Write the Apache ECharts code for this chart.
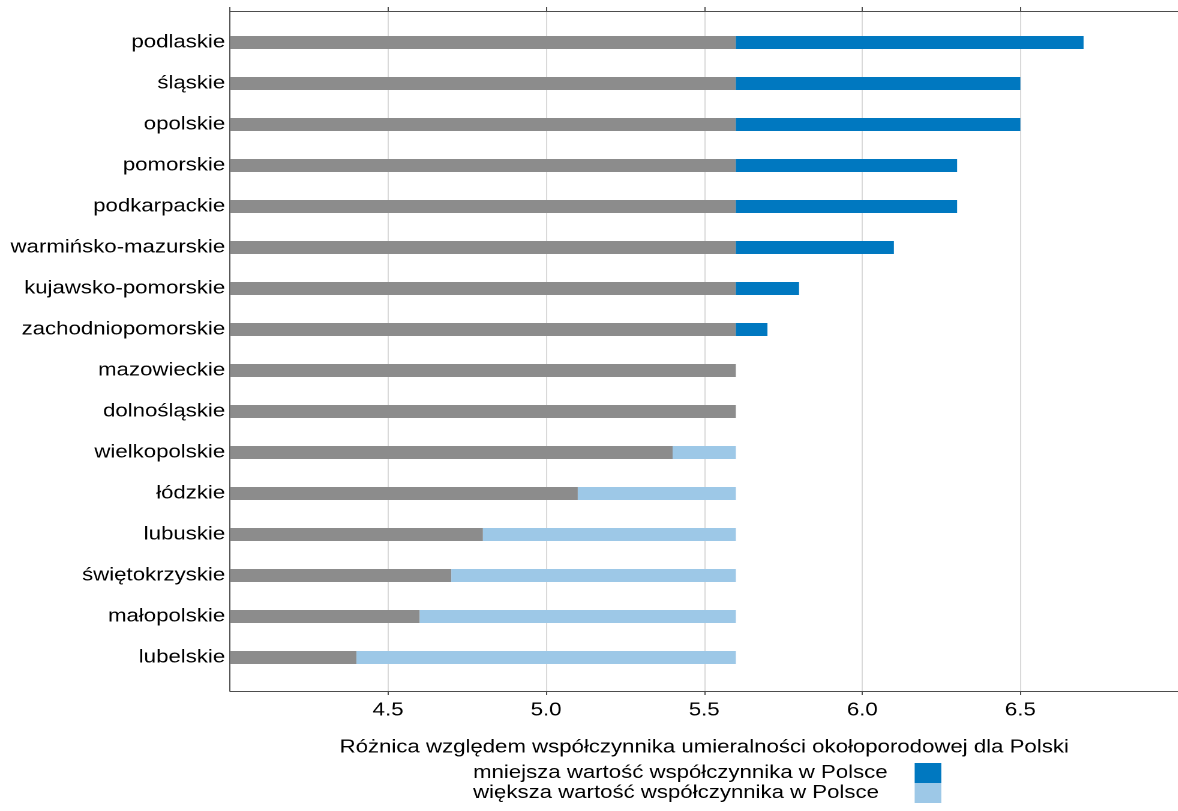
<!DOCTYPE html>
<html>
<head>
<meta charset="utf-8">
<script src="https://cdn.jsdelivr.net/npm/echarts@6/dist/echarts.min.js"></script>
<style>
  html, body { margin: 0; padding: 0; background: #fff; overflow: hidden; }
  #wrap { width: 1178px; height: 811px; overflow: hidden; position: relative; }
  #chart { width: 981.67px; height: 811px; transform: scaleX(1.2); transform-origin: 0 0; }
</style>
</head>
<body>
<div id="wrap"><div id="chart"></div></div>
<script>
// ---- data ----
const regions = ['podlaskie', 'śląskie', 'opolskie', 'pomorskie', 'podkarpackie',
  'warmińsko-mazurskie', 'kujawsko-pomorskie', 'zachodniopomorskie', 'mazowieckie',
  'dolnośląskie', 'wielkopolskie', 'łódzkie', 'lubuskie', 'świętokrzyskie',
  'małopolskie', 'lubelskie'];
const values = [6.7, 6.5, 6.5, 6.3, 6.3, 6.1, 5.8, 5.7, 5.6, 5.6, 5.4, 5.1, 4.8, 4.7, 4.6, 4.4];
const polandValue = 5.6;
const axisTitle = 'Różnica względem współczynnika umieralności okołoporodowej dla Polski';
const nameLower = 'mniejsza wartość współczynnika w Polsce';   // region above Poland
const nameHigher = 'większa wartość współczynnika w Polsce';   // region below Poland

// derived stacks
const r1 = v => Math.round(v * 10) / 10;
const graySeg = values.map(v => Math.min(v, polandValue));
const aboveSeg = values.map(v => r1(Math.max(v - polandValue, 0)));
const belowSeg = values.map(v => r1(Math.max(polandValue - v, 0)));

const FONT = "'Liberation Sans', Arial, sans-serif";
const FS = 18.5;
const AX = '#4d4d4d';

const chart = echarts.init(document.getElementById('chart'), null, { renderer: 'canvas', devicePixelRatio: 2 });
const gridLeft = 191.67, gridWidth = 792.5;

chart.setOption({
  animation: false,
  backgroundColor: '#fff',
  textStyle: { fontFamily: FONT },
  grid: [
    { left: gridLeft, top: 22, width: gridWidth, height: 656 },
    { left: gridLeft, top: 11, width: gridWidth, height: 680 }
  ],
  xAxis: [
    { gridIndex: 0, type: 'value', min: 4, max: 7, interval: 0.5, show: false },
    { gridIndex: 1, type: 'value', position: 'bottom', min: 4, max: 7, interval: 0.5,
      axisLine: { show: true, lineStyle: { color: AX, width: 1 } },
      axisTick: { show: true, length: 4, lineStyle: { color: AX } },
      axisLabel: { show: true, margin: 10, color: '#000', fontSize: FS, fontFamily: FONT,
        showMinLabel: false, showMaxLabel: false, formatter: v => v.toFixed(1) },
      splitLine: { show: true, lineStyle: { color: '#d9d9d9', width: 1 } },
      name: axisTitle, nameLocation: 'middle', nameGap: 47,
      nameTextStyle: { color: '#000', fontSize: FS, fontFamily: FONT } },
    { gridIndex: 1, type: 'value', position: 'top', min: 4, max: 7, interval: 0.5,
      axisLine: { show: true, lineStyle: { color: AX, width: 1 } },
      axisTick: { show: true, length: 4, lineStyle: { color: AX } },
      axisLabel: { show: false }, splitLine: { show: false } }
  ],
  yAxis: [
    { gridIndex: 0, type: 'category', data: regions, inverse: true,
      axisLine: { show: false }, axisTick: { show: false },
      axisLabel: { color: '#000', fontSize: FS, fontFamily: FONT, margin: 4 } },
    { gridIndex: 1, type: 'value', min: 0, max: 1,
      axisLine: { show: true, lineStyle: { color: AX, width: 1 } },
      axisTick: { show: false }, axisLabel: { show: false }, splitLine: { show: false } }
  ],
  legend: {
    orient: 'vertical', align: 'right', left: 394.2, top: 763, height: 120, padding: 0,
    itemWidth: 22.2, itemHeight: 20, itemGap: 0, icon: 'rect',
    selectedMode: false,
    data: [nameLower, nameHigher],
    formatter: n => '{t|' + n + '}',
    textStyle: { color: '#000', fontSize: FS, fontFamily: FONT, lineHeight: 20,
      rich: { t: { width: 363, align: 'left', fontSize: FS, fontFamily: FONT, color: '#000', lineHeight: 20 } } }
  },
  series: [
    { name: 'base', type: 'bar', stack: 's', xAxisIndex: 0, yAxisIndex: 0,
      data: graySeg, barWidth: 13, itemStyle: { color: '#8c8c8c' } },
    { name: nameLower, type: 'bar', stack: 's', xAxisIndex: 0, yAxisIndex: 0,
      data: aboveSeg, barWidth: 13, itemStyle: { color: '#0078c0' } },
    { name: nameHigher, type: 'bar', stack: 's', xAxisIndex: 0, yAxisIndex: 0,
      data: belowSeg, barWidth: 13, itemStyle: { color: '#9dc8e7' } }
  ]
});
</script>
</body>
</html>
